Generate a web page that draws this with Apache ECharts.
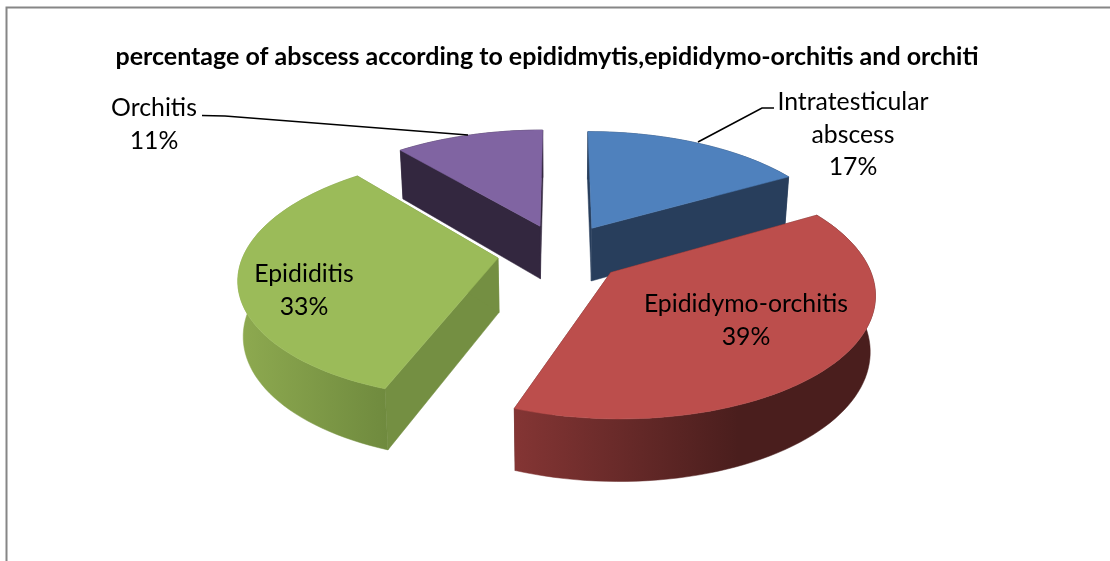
<!DOCTYPE html>
<html><head><meta charset="utf-8">
<style>html,body{margin:0;padding:0;background:#fff}#c{width:1110px;height:561px}</style>
<script src="https://cdn.jsdelivr.net/npm/echarts@6/dist/echarts.min.js"></script>
</head><body><div id="c"></div>
<script>
const titleText = 'percentage of abscess according to epididmytis,epididymo-orchitis and orchiti';
const categories = ['Intratesticular\nabscess', 'Epididymo-orchitis', 'Epididitis', 'Orchitis'];
const values = [16.7, 38.9, 33.3, 11.1];

const topColors = ['#4f81bd', '#bc4e4c', '#9bbb59', '#8064a2'];
const wallColors = ['#283e5c', '#5a2423', '#748f42', '#33273f'];
const sideStops = [
  ['#283e5c', '#283e5c'],
  ['#843534', '#4a1e1d'],
  ['#8eaa50', '#6f8a3e'],
  ['#33273f', '#33273f']
];
// label anchors (centre x, top y) and leader lines, in pixels
const labelPlace = [[853, 86], [746, 288], [304, 258], [154, 92]];
const leaders = [[[698, 142], [762, 108], [774, 108]], null, null, [[202, 115.5], [225, 116], [468, 135]]];

// projection of the pie
const CX = 561, CY = 253, AX = 254, BY = 118, K = 0.15, DEPTH = 54, SHRINK = 0.017, EXPLODE = 0.25;
const rad = d => d * Math.PI / 180;
function project(X, Y, low) {
  const w = 1 + K * Y, s = low ? 1 + SHRINK : 1;
  return [CX + AX * X / (w * s), CY - BY * Y / (w * s) + (low ? DEPTH / w : 0)];
}

const total = values.reduce((a, b) => a + b, 0);
let acc = 0;
const slices = values.map((v, i) => {
  const start = 90 - acc / total * 360;
  acc += v;
  const end = 90 - acc / total * 360;
  return { i, start, end, mid: (start + end) / 2 };
});
const drawOrder = slices.slice().sort((a, b) => Math.sin(rad(b.mid)) - Math.sin(rad(a.mid)));

function renderSlice(params, api) {
  const s = slices[api.value(0)];
  const ax = EXPLODE * Math.cos(rad(s.mid)), ay = EXPLODE * Math.sin(rad(s.mid));
  const arc = low => {
    const pts = [];
    const n = Math.max(12, Math.ceil((s.start - s.end) / 2));
    for (let j = 0; j <= n; j++) {
      const t = rad(s.start + (s.end - s.start) * j / n);
      pts.push(project(ax + Math.cos(t), ay + Math.sin(t), low));
    }
    return pts;
  };
  const topArc = arc(false), lowArc = arc(true);
  const apexT = project(ax, ay, false), apexL = project(ax, ay, true);
  const xs = topArc.concat(lowArc).map(p => p[0]);
  const xMin = Math.min(...xs), xMax = Math.max(...xs);
  const stops = sideStops[s.i];
  const poly = (points, fill) => ({ type: 'polygon', shape: { points }, style: { fill, stroke: fill, lineWidth: 0.5 }, silent: true });
  const band = topArc.concat(lowArc.slice().reverse());
  const w1 = [apexT, topArc[0], lowArc[0], apexL];
  const n = topArc.length - 1;
  const w2 = [apexT, topArc[n], lowArc[n], apexL];
  return {
    type: 'group',
    children: [
      poly(w1, wallColors[s.i]),
      poly(w2, wallColors[s.i]),
      poly(band, {
        type: 'linear', x: xMin, y: 0, x2: xMax, y2: 0, global: true,
        colorStops: s.i === 2
          ? [{ offset: 0, color: stops[0] }, { offset: 1, color: stops[1] }]
          : [{ offset: 0, color: stops[0] }, { offset: 0.62, color: stops[1] }, { offset: 1, color: stops[1] }]
      }),
      poly([apexT].concat(topArc), topColors[s.i])
    ]
  };
}

const font = 'Lato, "Noto Sans", sans-serif';
const graphics = [
  { type: 'polyline', shape: { points: [[6.5, 561], [6.5, 7.5], [1110, 7.5]] }, style: { stroke: '#868686', lineWidth: 2, fill: null }, silent: true, z: 1 }
];
leaders.forEach(pts => {
  if (pts) graphics.push({ type: 'polyline', shape: { points: pts }, style: { stroke: '#000', lineWidth: 1.6, fill: null }, silent: true, z: 20 });
});
categories.forEach((c, i) => {
  graphics.push({
    type: 'text', x: labelPlace[i][0], y: labelPlace[i][1], z: 30, silent: true,
    style: { text: c + '\n' + Math.round(values[i]) + '%', font: '24.8px ' + font, fill: '#000', align: 'center', verticalAlign: 'top', lineHeight: 32.5 }
  });
});

const chart = echarts.init(document.getElementById('c'), null, { renderer: 'canvas' });
chart.setOption({
  animation: false,
  backgroundColor: '#ffffff',
  title: {
    text: titleText, left: 542, top: 39, textAlign: 'center',
    textStyle: { fontFamily: font, fontWeight: 'bold', fontSize: 25, color: '#000' }
  },
  series: [{
    type: 'custom',
    coordinateSystem: 'none',
    renderItem: renderSlice,
    data: drawOrder.map(s => [s.i, values[s.i]]),
    silent: true,
    z: 5
  }],
  graphic: graphics
});
</script></body></html>
